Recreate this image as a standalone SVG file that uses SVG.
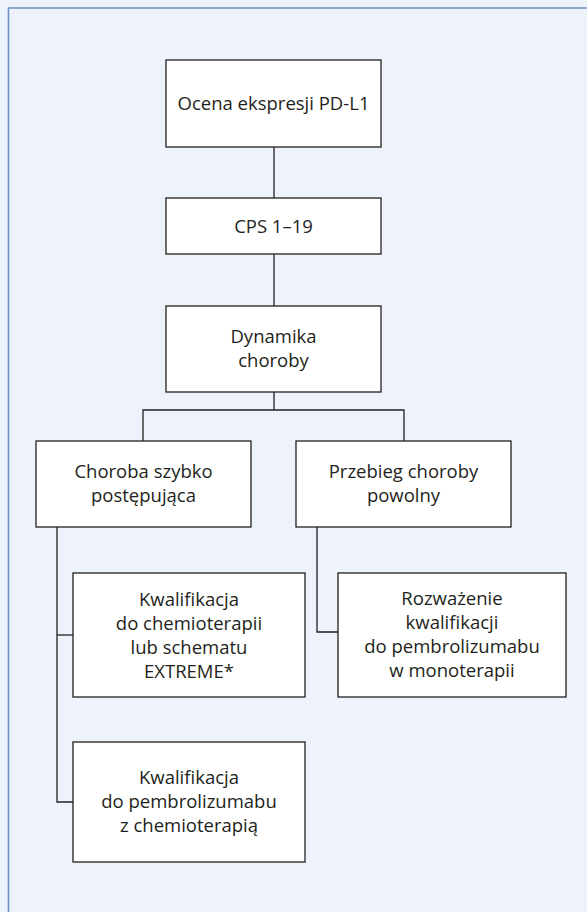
<svg xmlns="http://www.w3.org/2000/svg" width="587" height="912" viewBox="0 0 587 912">
  <style>
    .box { fill: #ffffff; stroke: #231f20; stroke-width: 1.3; }
    .lbl { font-family: "Open Sans", "Noto Sans", sans-serif; font-size: 18.5px; fill: #231f20; text-anchor: middle; }
    .conn { fill: none; stroke: #231f20; stroke-width: 1.3; }
  </style>

  <!-- panel background with blue top/left edge -->
  <rect x="0" y="0" width="587" height="912" fill="#eef2fa"/>
  <path d="M8.5 912 V8 H587" fill="none" stroke="#6b93c6" stroke-width="1.6"/>

  <!-- connectors -->
  <g id="connectors" class="conn">
    <path d="M274 147 V198"/>
    <path d="M274 254 V306"/>
    <path d="M274 392 V410"/>
    <path d="M143 441 V410 H404 V441"/>
    <path d="M57 527 V802 H73"/>
    <path d="M57 635 H73"/>
    <path d="M317 527 V632 H338"/>
  </g>

  <g id="ocena">
    <rect class="box" x="166" y="60" width="215" height="87"/>
    <text class="lbl" x="273.5" y="110">Ocena ekspresji PD-L1</text>
  </g>

  <g id="cps">
    <rect class="box" x="166" y="198" width="215" height="56"/>
    <text class="lbl" x="273.5" y="232.5">CPS 1–19</text>
  </g>

  <g id="dynamika">
    <rect class="box" x="166" y="306" width="215" height="86"/>
    <text class="lbl" x="273.5" y="343">Dynamika</text>
    <text class="lbl" x="273.5" y="367">choroby</text>
  </g>

  <g id="szybko">
    <rect class="box" x="36" y="441" width="215" height="86"/>
    <text class="lbl" x="143.5" y="478">Choroba szybko</text>
    <text class="lbl" x="143.5" y="502">postępująca</text>
  </g>

  <g id="powolny">
    <rect class="box" x="296" y="441" width="215" height="86"/>
    <text class="lbl" x="403.5" y="478">Przebieg choroby</text>
    <text class="lbl" x="403.5" y="502">powolny</text>
  </g>

  <g id="chemio-extreme">
    <rect class="box" x="73" y="573" width="232" height="124"/>
    <text class="lbl" x="189" y="606">Kwalifikacja</text>
    <text class="lbl" x="189" y="630">do chemioterapii</text>
    <text class="lbl" x="189" y="654">lub schematu</text>
    <text class="lbl" x="189" y="678">EXTREME*</text>
  </g>

  <g id="monoterapia">
    <rect class="box" x="338" y="573" width="228" height="124"/>
    <text class="lbl" x="452" y="605">Rozważenie</text>
    <text class="lbl" x="452" y="629">kwalifikacji</text>
    <text class="lbl" x="452" y="653">do pembrolizumabu</text>
    <text class="lbl" x="452" y="677">w monoterapii</text>
  </g>

  <g id="pembro-chemio">
    <rect class="box" x="73" y="742" width="232" height="120"/>
    <text class="lbl" x="189" y="784">Kwalifikacja</text>
    <text class="lbl" x="189" y="808">do pembrolizumabu</text>
    <text class="lbl" x="189" y="832">z chemioterapią</text>
  </g>
</svg>
